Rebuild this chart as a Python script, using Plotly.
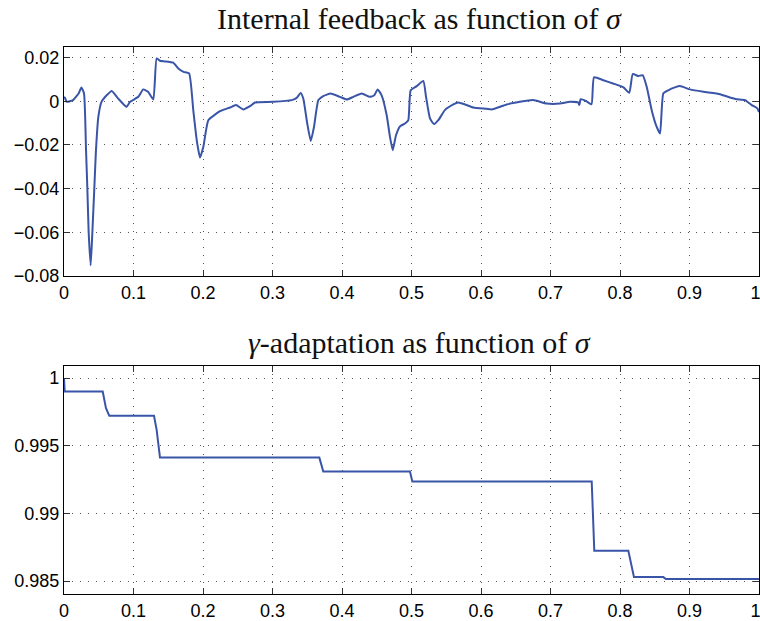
import plotly.graph_objects as go

# Internal feedback vs sigma
sigma_fb = [0, 0.0014, 0.004, 0.013, 0.021, 0.025, 0.0288, 0.0317, 0.0336, 0.0355, 0.0384,
            0.0408, 0.0436, 0.046, 0.0494, 0.054, 0.0614, 0.0686, 0.078, 0.090, 0.095,
            0.107, 0.114, 0.121, 0.1285, 0.1333, 0.138, 0.157, 0.1645, 0.172, 0.180,
            0.186, 0.191, 0.1957, 0.2005, 0.2077, 0.2245, 0.239, 0.2475, 0.258, 0.2676,
            0.2748, 0.301, 0.3276, 0.3348, 0.3406, 0.3443, 0.350, 0.355, 0.3597, 0.366,
            0.373, 0.3837, 0.397, 0.407, 0.4163, 0.4283, 0.440, 0.4465, 0.4513, 0.457,
            0.4643, 0.469, 0.473, 0.4777, 0.4835, 0.4906, 0.4954, 0.4988, 0.5075, 0.517,
            0.5209, 0.5266, 0.5324, 0.5386, 0.548, 0.5602, 0.567, 0.577, 0.589, 0.608,
            0.6154, 0.637, 0.656, 0.675, 0.6945, 0.7137, 0.728, 0.740, 0.7415, 0.7434,
            0.751, 0.759, 0.7626, 0.776, 0.790, 0.805, 0.8134, 0.8183, 0.8263, 0.8326,
            0.8384, 0.8456, 0.8528, 0.8576, 0.8623, 0.8695, 0.879, 0.8863, 0.9007, 0.92,
            0.944, 0.958, 0.968, 0.98, 0.9895, 0.9976, 1.0]
feedback = [0.002, 0.0015, -0.0003, 0.0005, 0.0035, 0.0063, 0.0035, -0.0224, -0.040, -0.060, -0.0751,
            -0.060, -0.040, -0.0224, -0.0072, -0.0003, 0.0027, 0.0047, 0.0012, -0.0026, -0.0003,
            0.002, 0.0054, 0.0043, 0.0008, 0.0196, 0.0185, 0.0176, 0.015, 0.0134, 0.0127,
            -0.0041, -0.0179, -0.0258, -0.0209, -0.0087, -0.0046, -0.0029, -0.0018, -0.0038, -0.0023,
            -0.0006, -0.0003, 0.0005, 0.0015, 0.0038, 0.0012, -0.0102, -0.0182, -0.0118, 0.0005,
            0.0023, 0.0035, 0.002, 0.0008, 0.002, 0.0035, 0.002, 0.0027, 0.0054, 0.0027,
            -0.0064, -0.0163, -0.0224, -0.0156, -0.0115, -0.0102, -0.0087, 0.005, 0.0069, 0.0093,
            0.002, -0.0079, -0.0105, -0.0087, -0.0041, -0.0015, -0.0006, -0.0015, -0.0029, -0.0035,
            -0.0038, -0.0015, -0.0003, 0.0005, -0.0011, -0.0011, -0.0003, -0.0006, -0.0018, 0.0009,
            0.0001, -0.0014, 0.0109, 0.0096, 0.0081, 0.0063, 0.0038, 0.0124, 0.0115, 0.0119,
            0.0066, -0.0041, -0.0118, -0.0148, 0.0035, 0.005, 0.0063, 0.0069, 0.0054, 0.0043,
            0.0032, 0.0017, 0.0009, 0.0005, -0.0018, -0.0033, -0.005]

# gamma adaptation vs sigma
sigma_g = [0, 0.001, 0.0557, 0.0604, 0.0652, 0.1295, 0.1333, 0.1358, 0.1381, 0.3674, 0.3731,
           0.4978, 0.5012, 0.7593, 0.763, 0.812, 0.8201, 0.8623, 0.866, 1.0]
gamma = [1.0, 0.99901, 0.99901, 0.99778, 0.99721, 0.99721, 0.99617, 0.99506, 0.99412, 0.99412, 0.99309,
         0.99309, 0.99235, 0.99235, 0.98724, 0.98724, 0.98529, 0.98529, 0.98515, 0.98515]

x_ticks = [0, 0.1, 0.2, 0.3, 0.4, 0.5, 0.6, 0.7, 0.8, 0.9, 1]
# the last label gets a trailing thin space so it sits just inside the page edge
x_labels = ["0", "0.1", "0.2", "0.3", "0.4", "0.5", "0.6", "0.7", "0.8", "0.9", "1\u2009\u2009"]
fb_ticks = [0.02, 0, -0.02, -0.04, -0.06, -0.08]
fb_labels = ["0.02", "0", "\u22120.02", "\u22120.04", "\u22120.06", "\u22120.08"]
g_ticks = [1, 0.995, 0.99, 0.985]
g_labels = ["1", "0.995", "0.99", "0.985"]

LINE = "#3A55A8"
W, H = 760, 621

fig = go.Figure()
fig.add_trace(go.Scatter(x=sigma_fb, y=feedback, mode="lines",
                         line=dict(color=LINE, width=2, shape="spline", smoothing=0.45),
                         xaxis="x", yaxis="y"))
fig.add_trace(go.Scatter(x=sigma_g, y=gamma, mode="lines",
                         line=dict(color=LINE, width=2), xaxis="x2", yaxis="y2"))

axis_style = dict(
    showline=True, linecolor="black", linewidth=1.2, mirror="ticks",
    ticks="inside", ticklen=6, tickwidth=1, tickcolor="#333",
    showgrid=True, gridcolor="#555", gridwidth=1, griddash="1px,7px",
    zeroline=False, ticklabeloverflow="allow", automargin=False,
    tickfont=dict(family="Liberation Sans, Arial, sans-serif", size=18, color="black"),
)

x_dom = [64 / W, 759 / W]
fig.update_layout(
    width=W, height=H,
    margin=dict(l=0, r=0, t=0, b=0, autoexpand=False),
    paper_bgcolor="white", plot_bgcolor="white",
    showlegend=False,
    xaxis=dict(domain=x_dom, range=[0, 1], tickvals=x_ticks, ticktext=x_labels,
               anchor="y", ticklabelstandoff=0, **axis_style),
    yaxis=dict(domain=[1 - 276 / H, 1 - 47 / H], range=[-0.08, 0.0248],
               tickvals=fb_ticks, ticktext=fb_labels, anchor="x", **axis_style),
    xaxis2=dict(domain=x_dom, range=[0, 1], tickvals=x_ticks, ticktext=x_labels,
                anchor="y2", ticklabelstandoff=0, **axis_style),
    yaxis2=dict(domain=[1 - 594.3 / H, 1 - 366 / H], range=[0.98402, 1.00089],
                tickvals=g_ticks, ticktext=g_labels, anchor="x2", **axis_style),
)

title_font = dict(family="Liberation Serif, Times New Roman, serif", size=30, color="#111")
fig.add_annotation(text="Internal feedback as function of <i>σ</i>",
                   x=419 / W, y=1 - 18 / H, xref="paper", yref="paper",
                   xanchor="center", yanchor="middle", showarrow=False, font=title_font)
fig.add_annotation(text="<i>γ</i>-adaptation as function of <i>σ</i>",
                   x=419 / W, y=1 - 342 / H, xref="paper", yref="paper",
                   xanchor="center", yanchor="middle", showarrow=False, font=title_font)

fig.write_html("out.html")
